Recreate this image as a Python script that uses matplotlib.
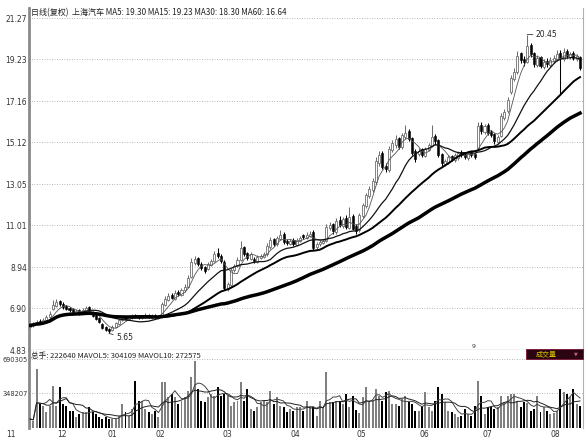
import matplotlib
matplotlib.use("Agg")
import matplotlib.pyplot as plt
import matplotlib.patches as patches
import numpy as np
import pandas as pd

# daily candles (forward-adjusted prices)
opens = [5.95, 6.05, 6.10, 6.25, 6.15, 6.30, 6.45, 6.85, 7.00,
         7.25, 7.10, 7.00, 6.90, 6.85, 6.65, 6.80, 6.65, 6.75, 6.95,
         6.70, 6.55, 6.40, 6.10, 5.95, 5.85, 5.80, 5.95, 6.10,
         6.30, 6.45, 6.35, 6.40, 6.55, 6.50, 6.40, 6.45, 6.55,
         6.40, 6.55, 6.40, 6.50, 7.05, 7.30, 7.55, 7.35, 7.70, 7.55,
         7.80, 7.95, 8.45, 9.15, 9.40, 9.10, 8.95, 8.85, 9.05,
         9.25, 9.65, 9.50, 9.20, 7.85, 8.05, 8.80, 9.00, 9.30, 9.95,
         9.65, 9.35, 9.35, 9.20, 9.40, 9.45, 9.60, 9.95, 10.35,
         10.10, 10.35, 10.60, 10.25, 10.10, 10.30, 10.05, 10.25, 10.55,
         10.40, 10.50, 10.65, 9.95, 10.10, 10.15, 10.25, 10.85, 11.05, 10.65,
         11.25, 10.95, 11.35, 10.85, 11.45, 10.95, 10.75, 11.45, 11.95,
         12.45, 12.75, 13.15, 14.10, 14.60, 13.95, 13.75, 14.75, 15.00, 15.35,
         14.90, 15.40, 15.70, 15.35, 14.70, 14.55, 14.80, 14.45, 14.75,
         14.95, 15.45, 15.25, 14.55, 14.05, 14.15, 14.45, 14.25, 14.35,
         14.65, 14.55, 14.35, 14.65, 14.55, 14.85, 15.95, 15.65, 15.95, 15.65,
         15.55, 15.15, 15.45, 16.30, 16.65, 17.60, 18.25, 18.60, 19.55,
         19.25, 19.10, 19.95, 19.55, 18.95, 19.35, 18.85, 19.15, 18.95, 19.15,
         19.25, 19.55, 19.25, 19.65, 19.35, 19.55, 19.25, 19.35]
closes = [6.05, 6.10, 6.20, 6.15, 6.30, 6.45, 6.60, 7.05, 7.20,
          7.10, 6.95, 6.85, 6.80, 6.70, 6.75, 6.65, 6.80, 6.90, 6.70,
          6.50, 6.35, 6.20, 5.90, 5.80, 5.75, 5.95, 6.15, 6.30,
          6.40, 6.35, 6.45, 6.50, 6.45, 6.40, 6.45, 6.55, 6.45,
          6.50, 6.45, 6.50, 7.10, 7.35, 7.50, 7.40, 7.65, 7.60, 7.80,
          7.95, 8.40, 9.20, 9.35, 9.10, 8.90, 8.75, 9.10, 9.25,
          9.60, 9.50, 9.25, 7.90, 8.10, 8.80, 9.00, 9.30, 9.90, 9.60,
          9.40, 9.60, 9.25, 9.45, 9.50, 9.60, 10.00, 10.30, 10.10,
          10.40, 10.55, 10.20, 10.15, 10.25, 10.10, 10.30, 10.40, 10.45,
          10.55, 10.60, 9.90, 10.10, 10.20, 10.25, 10.90, 11.00, 10.70, 11.20,
          11.00, 11.30, 10.90, 11.40, 10.80, 10.70, 11.50, 12.00, 12.50,
          12.80, 13.20, 14.20, 14.50, 13.90, 13.80, 14.80, 15.10, 15.30, 14.90,
          15.50, 15.60, 15.30, 14.60, 14.30, 14.70, 14.50, 14.80, 15.00,
          15.40, 15.20, 14.50, 14.10, 14.20, 14.40, 14.30, 14.50, 14.60,
          14.50, 14.40, 14.60, 14.50, 14.40, 15.90, 15.70, 15.90, 15.60, 15.50,
          15.20, 15.40, 16.40, 16.60, 17.20, 18.30, 18.60, 19.40, 19.20,
          19.10, 19.90, 19.50, 19.00, 19.30, 18.90, 19.10, 19.00, 19.20, 19.30,
          19.50, 19.30, 19.60, 19.40, 19.50, 19.30, 19.40, 18.80]
highs = [6.15, 6.20, 6.30, 6.35, 6.40, 6.55, 6.75, 7.30, 7.35,
         7.30, 7.20, 7.05, 6.95, 6.90, 6.85, 6.85, 6.90, 7.00, 7.00,
         6.75, 6.60, 6.45, 6.15, 6.00, 5.90, 6.05, 6.20, 6.40,
         6.45, 6.50, 6.50, 6.60, 6.60, 6.55, 6.50, 6.65, 6.60,
         6.60, 6.60, 6.55, 7.20, 7.50, 7.65, 7.65, 7.80, 7.80, 7.90,
         8.10, 8.55, 9.40, 9.50, 9.45, 9.20, 9.00, 9.20, 9.35,
         9.75, 9.90, 9.60, 9.30, 8.20, 8.90, 9.10, 9.45, 10.25, 10.00,
         9.70, 9.70, 9.45, 9.55, 9.60, 9.70, 10.15, 10.45, 10.40,
         10.50, 10.75, 10.65, 10.35, 10.35, 10.40, 10.40, 10.50, 10.60,
         10.65, 10.70, 10.75, 10.20, 10.30, 10.35, 11.05, 11.15, 11.10, 11.35,
         11.45, 11.40, 11.50, 11.90, 11.55, 11.05, 11.60, 12.10, 12.60,
         12.95, 13.35, 14.40, 14.70, 14.70, 14.10, 14.95, 15.25, 15.50, 15.40,
         15.60, 15.95, 15.80, 15.40, 14.80, 14.85, 14.85, 14.90, 15.10,
         15.95, 15.55, 15.30, 14.60, 14.30, 14.50, 14.50, 14.60, 14.70,
         14.75, 14.60, 14.70, 14.70, 14.60, 16.10, 16.10, 16.00, 16.05, 15.75,
         15.60, 15.50, 16.55, 16.75, 17.35, 18.45, 18.80, 19.65, 19.60,
         19.40, 20.45, 20.05, 19.60, 19.45, 19.40, 19.25, 19.30, 19.35, 19.45,
         19.70, 19.70, 19.80, 19.75, 19.60, 19.65, 19.50, 19.40]
lows = [5.85, 5.95, 6.05, 6.10, 6.10, 6.25, 6.40, 6.80, 6.95,
        7.00, 6.85, 6.80, 6.70, 6.60, 6.60, 6.55, 6.60, 6.70, 6.65,
        6.45, 6.30, 6.15, 5.85, 5.75, 5.65, 5.75, 5.90, 6.05,
        6.25, 6.30, 6.30, 6.35, 6.40, 6.35, 6.35, 6.40, 6.40,
        6.35, 6.40, 6.35, 6.45, 7.00, 7.25, 7.35, 7.30, 7.50, 7.50,
        7.70, 7.90, 8.40, 9.05, 9.00, 8.80, 8.65, 8.80, 9.00,
        9.20, 9.40, 9.15, 7.80, 7.75, 7.95, 8.70, 8.95, 9.25, 9.50,
        9.30, 9.30, 9.15, 9.15, 9.35, 9.40, 9.50, 9.85, 10.00,
        10.00, 10.30, 10.10, 10.05, 10.05, 10.00, 10.00, 10.20, 10.35,
        10.35, 10.45, 9.80, 9.85, 10.00, 10.10, 10.20, 10.75, 10.60, 10.60,
        10.90, 10.85, 10.80, 10.80, 10.75, 10.60, 10.65, 11.35, 11.85,
        12.35, 12.65, 13.05, 13.95, 13.80, 13.65, 13.65, 14.65, 14.85, 14.80,
        14.80, 15.30, 15.20, 14.50, 14.15, 14.45, 14.40, 14.40, 14.70,
        14.90, 15.05, 14.40, 13.95, 13.95, 14.05, 14.20, 14.15, 14.25,
        14.40, 14.30, 14.25, 14.40, 14.30, 14.80, 15.55, 15.55, 15.50, 15.40,
        15.05, 15.05, 15.40, 16.20, 16.55, 17.50, 18.15, 18.50, 19.05,
        18.90, 19.05, 19.35, 18.85, 18.85, 18.80, 18.75, 18.85, 18.85, 19.05,
        19.15, 17.50, 19.15, 19.30, 19.25, 19.20, 19.15, 18.70]
# volume in thousands of lots
volumes = [90, 73, 590, 240, 223, 157, 223, 423, 223, 407,
           240, 223, 173, 173, 107, 140, 157, 157, 207, 157,
           140, 107, 90, 107, 90, 90, 90, 123, 240, 157,
           123, 190, 473, 273, 273, 190, 157, 140, 173, 107,
           457, 457, 307, 340, 307, 240, 273, 307, 373, 507,
           673, 390, 273, 257, 307, 340, 323, 407, 323, 340,
           323, 223, 257, 273, 457, 273, 390, 190, 173, 207,
           257, 273, 257, 373, 240, 307, 223, 207, 157, 190,
           173, 207, 207, 173, 273, 207, 207, 123, 273, 207,
           557, 257, 257, 273, 273, 240, 340, 207, 323, 180,
           147, 307, 407, 273, 273, 390, 323, 273, 357, 373,
           240, 240, 223, 290, 323, 257, 240, 173, 173, 223,
           357, 207, 173, 273, 407, 340, 257, 173, 157, 140,
           107, 123, 190, 140, 123, 223, 473, 323, 140, 207,
           207, 190, 207, 323, 257, 323, 340, 340, 273, 207,
           257, 247, 173, 190, 323, 157, 207, 173, 140, 147,
           173, 390, 357, 340, 307, 390, 240, 223]

price_ticks = [4.83, 6.90, 8.94, 11.01, 13.05, 15.12, 17.16, 19.23, 21.27]
vol_ticks = [348207, 690305]
month_labels = ["11", "12", "01", "02", "03", "04", "05", "06", "07", "08"]
month_pos = [-5.7, 9.7, 25, 39.6, 60, 80.6, 100.6, 119.6, 139, 159.5]

o = np.array(opens)
c = np.array(closes)
h = np.array(highs)
l = np.array(lows)
v = np.array(volumes) * 1000
x = np.arange(len(c))
up = c >= o

cs = pd.Series(c)
ma5 = cs.rolling(5, min_periods=1).mean()
ma15 = cs.rolling(15, min_periods=1).mean()
ma30 = cs.rolling(30, min_periods=1).mean()
ma60 = cs.rolling(60, min_periods=1).mean()
vs = pd.Series(v)
mavol5 = vs.rolling(5, min_periods=1).mean()
mavol10 = vs.rolling(10, min_periods=1).mean()

W, H = 588, 440
fig = plt.figure(figsize=(W / 100, H / 100), dpi=100)
ax = fig.add_axes([29 / W, 90 / H, 554 / W, 342 / H])
axv = fig.add_axes([29 / W, 12 / H, 554 / W, 78 / H], sharex=ax)

cjk = ["Noto Sans CJK SC", "DejaVu Sans"]

# candles
ax.vlines(x[up], l[up], h[up], color="#6e6e6e", lw=0.75, zorder=2)
ax.vlines(x[~up], l[~up], h[~up], color="black", lw=0.75, zorder=2)
ax.bar(x[up], np.maximum(c - o, 0.02)[up], bottom=o[up], width=0.62,
       facecolor="white", edgecolor="#6e6e6e", lw=0.6, zorder=3)
ax.bar(x[~up], (o - c)[~up], bottom=c[~up], width=0.62,
       facecolor="black", edgecolor="black", lw=0.4, zorder=3)

ax.plot(x, ma5, color="#555555", lw=0.6, zorder=4)
ax.plot(x, ma15, color="#111111", lw=0.9, zorder=4)
ax.plot(x, ma30, color="black", lw=1.4, zorder=4)
ax.plot(x, ma60, color="black", lw=2.5, zorder=4)

# high / low marks
ih = int(np.argmax(h))
il = int(np.argmin(l))
ax.annotate("%.2f" % h[ih], xy=(ih, h[ih]), xytext=(6, 0), textcoords="offset points",
            fontsize=5.5, color="#222222", va="center",
            arrowprops=dict(arrowstyle="-", color="#333333", lw=0.6, shrinkA=0, shrinkB=0))
ax.annotate("%.2f" % l[il], xy=(il, l[il]), xytext=(5, -3), textcoords="offset points",
            fontsize=5.5, color="#222222", va="center",
            arrowprops=dict(arrowstyle="-", color="#333333", lw=0.6, shrinkA=0, shrinkB=0))

ax.set_xlim(-0.3, len(c) - 0.1)
ax.set_ylim(4.83, 4.83 + 342 / 20.19)
ax.set_yticks(price_ticks)
ax.set_yticklabels(["%.2f" % t for t in price_ticks])
ax.grid(axis="y", linestyle=(0, (1, 2)), color="#a0a0a0", lw=0.6)
ax.tick_params(axis="y", length=0, pad=1.5, labelsize=5.5, labelcolor="#333333")
ax.tick_params(axis="x", length=0, labelbottom=False)

# volume
axv.bar(x[up], v[up], width=0.6, color="#808080", zorder=2)
axv.bar(x[~up], v[~up], width=0.6, color="black", zorder=2)
axv.plot(x, mavol5, color="#444444", lw=0.7, zorder=3)
axv.plot(x, mavol10, color="#222222", lw=0.7, zorder=3)
axv.set_ylim(0, 690305 * 78 / 69)
axv.set_yticks(vol_ticks)
axv.set_yticklabels([str(t) for t in vol_ticks])
axv.grid(axis="y", linestyle=(0, (1, 2)), color="#a0a0a0", lw=0.6)
axv.tick_params(axis="y", length=0, pad=1, labelsize=4.8, labelcolor="#333333")
axv.tick_params(axis="x", length=0, labelbottom=False)

for a in (ax, axv):
    a.spines["left"].set_color("#8a8a8a")
    a.spines["left"].set_linewidth(2)
    a.spines["right"].set_color("#b0b0b0")
    a.spines["right"].set_linewidth(0.8)
    a.spines["top"].set_visible(False)
    a.set_axisbelow(True)
ax.spines["bottom"].set_color("black")
ax.spines["bottom"].set_linewidth(0.8)
axv.spines["bottom"].set_visible(False)

for pos, lab in zip(month_pos, month_labels):
    axv.text(pos, -0.03, lab, transform=axv.get_xaxis_transform(), ha="center", va="top",
             fontsize=5.5, color="#333333", clip_on=False)

fig.text(31 / W, 1 - 13 / H,
         "日线(复权)  上海汽车 MA5: %.2f MA15: %.2f MA30: %.2f MA60: %.2f"
         % (19.30, 19.23, 18.30, 16.64),
         family=cjk, fontsize=5.8, color="#222222", va="center")
fig.text(31 / W, 1 - 356 / H,
         "总手: %d MAVOL5: %d MAVOL10: %d" % (222640, 304109, 272575),
         family=cjk, fontsize=5.5, color="#222222", va="center")
fig.text(472 / W, 1 - 346 / H, "9", fontsize=4.5, color="#333333", va="center")

box = patches.Rectangle((526 / W, 1 - 359 / H), 57 / W, 10 / H, transform=fig.transFigure,
                        facecolor="#2a0410", edgecolor="#7a1030", lw=0.6, zorder=5)
fig.patches.append(box)
fig.text(546 / W, 1 - 354 / H, "成交量", family=cjk, fontsize=5, color="#d8c400",
         ha="center", va="center", zorder=6)
fig.text(576 / W, 1 - 354 / H, "▼", fontsize=3.5, color="#c06080",
         ha="center", va="center", zorder=6)

fig.savefig("out.png", dpi=100)
